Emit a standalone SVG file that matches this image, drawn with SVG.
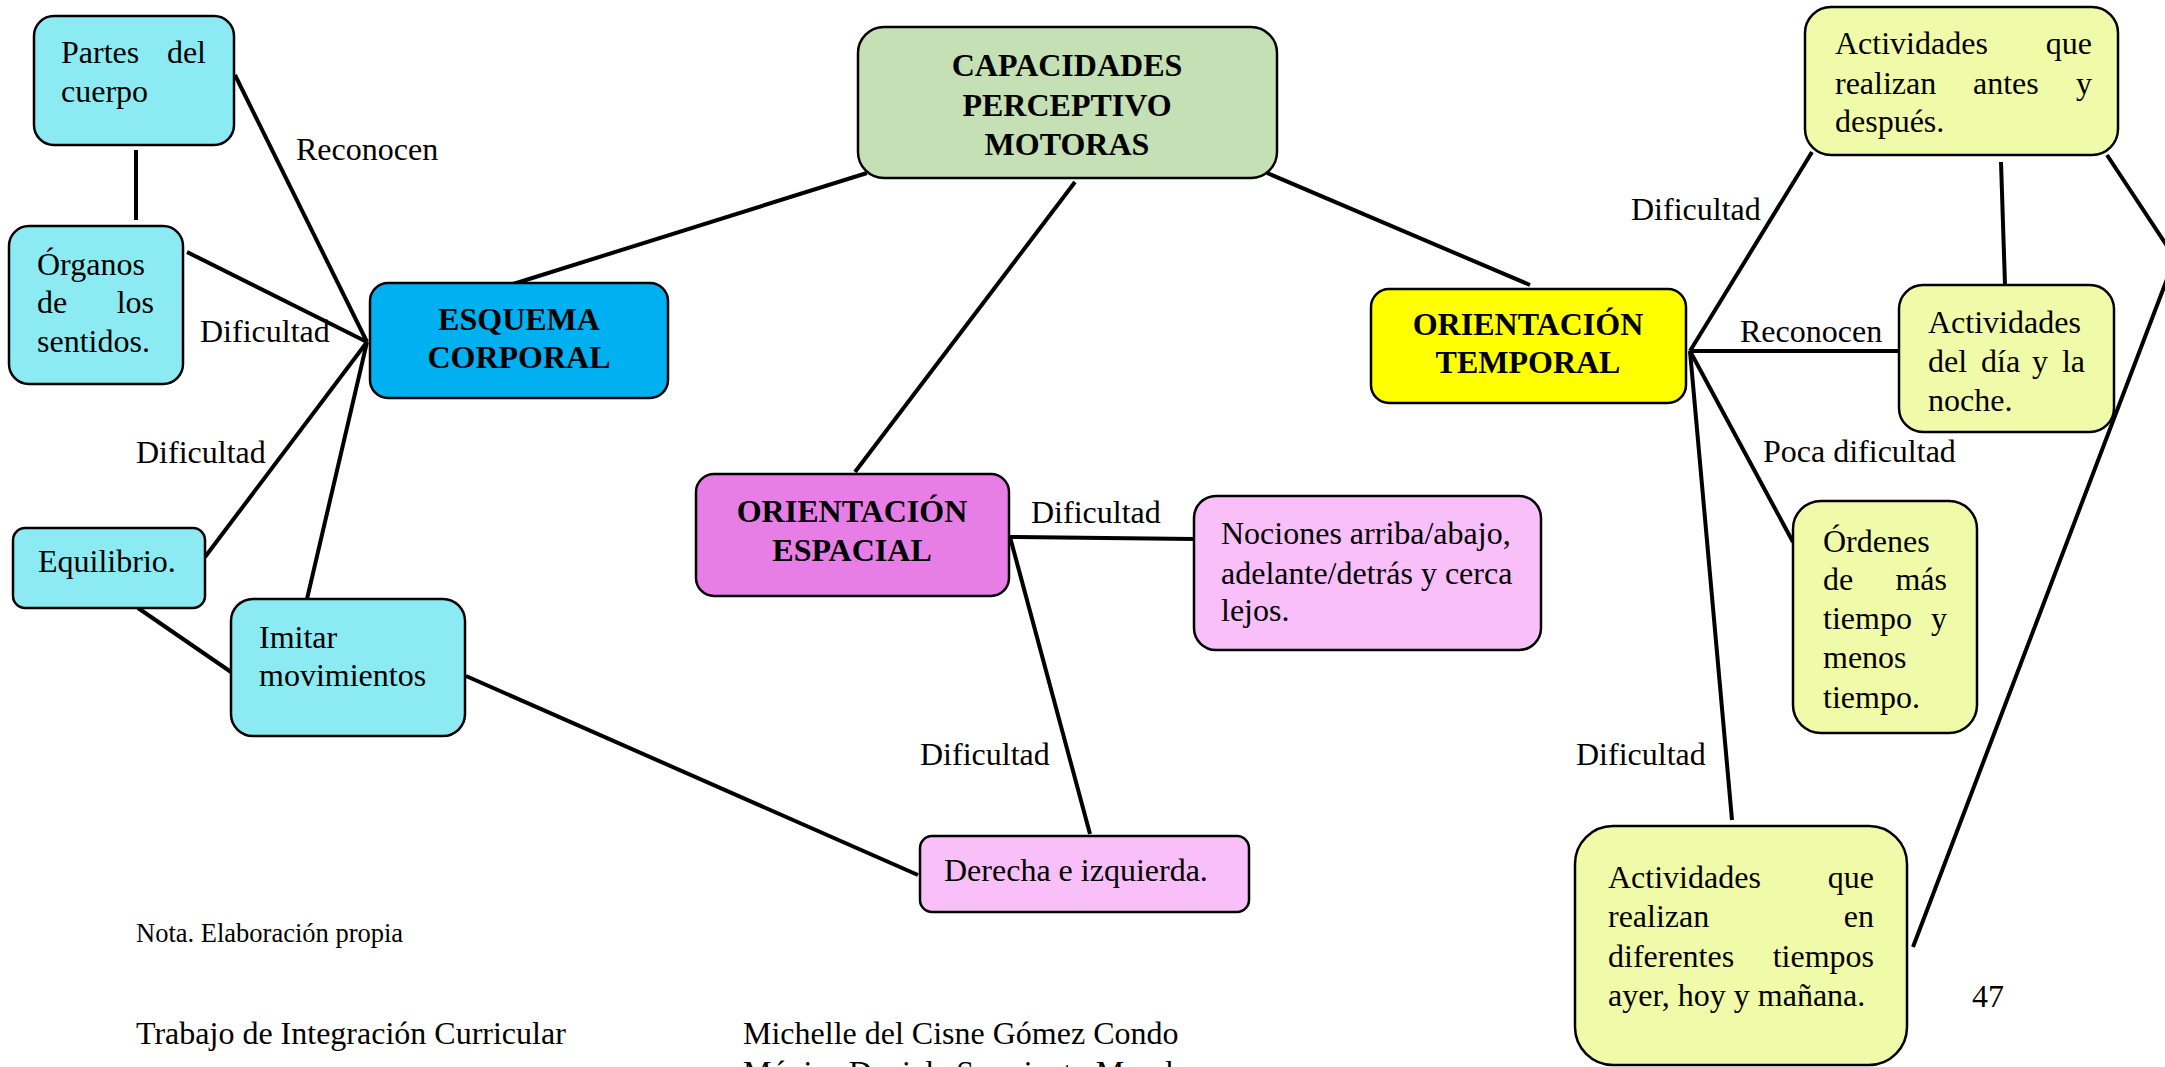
<svg xmlns="http://www.w3.org/2000/svg" width="2165" height="1067" viewBox="0 0 2165 1067">
<style>
text{font-family:"Liberation Serif","Times New Roman",serif;font-size:32px;fill:#000}
.b{font-weight:bold;text-anchor:middle}
.e{text-anchor:end}
.n{stroke:#000;stroke-width:2.5}
.c{stroke:#000;stroke-width:4;fill:none}
.cy{fill:#8CEAF2}
.ye{fill:#F0FBA9}
.pk{fill:#F9BFF9}
</style>
<rect width="2165" height="1067" fill="#fff"/>
<g id="connectors">
<line class="c" x1="867" y1="173" x2="510" y2="285"/>
<line class="c" x1="1075" y1="182" x2="855" y2="472"/>
<line class="c" x1="1267" y1="173" x2="1530" y2="285"/>
<line class="c" x1="235" y1="75" x2="367" y2="342"/>
<line class="c" x1="136" y1="150" x2="136" y2="220"/>
<line class="c" x1="187" y1="252" x2="367" y2="342"/>
<line class="c" x1="367" y1="342" x2="205" y2="557"/>
<line class="c" x1="367" y1="342" x2="307" y2="599"/>
<line class="c" x1="138" y1="608" x2="231" y2="672"/>
<line class="c" x1="466" y1="676" x2="918" y2="875"/>
<line class="c" x1="1010" y1="537" x2="1194" y2="539"/>
<line class="c" x1="1010" y1="537" x2="1090" y2="834"/>
<line class="c" x1="1690" y1="351" x2="1812" y2="152"/>
<line class="c" x1="1690" y1="351" x2="1899" y2="351"/>
<line class="c" x1="1690" y1="351" x2="1793" y2="542"/>
<line class="c" x1="1690" y1="351" x2="1732" y2="820"/>
<line class="c" x1="2001" y1="162" x2="2005" y2="285"/>
<polyline class="c" points="2107,155 2175,258 1913,947"/>
<text x="296" y="160">Reconocen</text>
<text x="200" y="342">Dificultad</text>
<text x="136" y="463">Dificultad</text>
<text x="1031" y="523">Dificultad</text>
<text x="920" y="765">Dificultad</text>
<text x="1631" y="220">Dificultad</text>
<text x="1740" y="342">Reconocen</text>
<text x="1763" y="462">Poca dificultad</text>
<text x="1576" y="765">Dificultad</text>
</g>
<g id="capacidades">
<rect class="n" x="858" y="27" width="419" height="151" rx="26" fill="#C5E0B4"/>
<text class="b" x="1067" y="76">CAPACIDADES</text>
<text class="b" x="1067" y="116">PERCEPTIVO</text>
<text class="b" x="1067" y="155">MOTORAS</text>
</g>
<g id="esquema">
<rect class="n" x="370" y="283" width="298" height="115" rx="18" fill="#00B0F0"/>
<text class="b" x="519" y="330">ESQUEMA</text>
<text class="b" x="519" y="368">CORPORAL</text>
</g>
<g id="espacial">
<rect class="n" x="696" y="474" width="313" height="122" rx="18" fill="#E67EE6"/>
<text class="b" x="852" y="522">ORIENTACIÓN</text>
<text class="b" x="852" y="561">ESPACIAL</text>
</g>
<g id="temporal">
<rect class="n" x="1371" y="289" width="315" height="114" rx="18" fill="#FFFF00"/>
<text class="b" x="1528" y="335">ORIENTACIÓN</text>
<text class="b" x="1528" y="373">TEMPORAL</text>
</g>
<g id="partes">
<rect class="n cy" x="34" y="16" width="200" height="129" rx="20"/>
<text x="61" y="63">Partes</text><text class="e" x="206" y="63">del</text>
<text x="61" y="102">cuerpo</text>
</g>
<g id="organos">
<rect class="n cy" x="9" y="226" width="174" height="158" rx="20"/>
<text x="37" y="275">Órganos</text>
<text x="37" y="313">de</text><text class="e" x="154" y="313">los</text>
<text x="37" y="352">sentidos.</text>
</g>
<g id="equilibrio">
<rect class="n cy" x="13" y="528" width="192" height="80" rx="12"/>
<text x="38" y="572">Equilibrio.</text>
</g>
<g id="imitar">
<rect class="n cy" x="231" y="599" width="234" height="137" rx="22"/>
<text x="259" y="648">Imitar</text>
<text x="259" y="686">movimientos</text>
</g>
<g id="nociones">
<rect class="n pk" x="1194" y="496" width="347" height="154" rx="22"/>
<text x="1221" y="544">Nociones arriba/abajo,</text>
<text x="1221" y="584">adelante/detrás y cerca</text>
<text x="1221" y="621">lejos.</text>
</g>
<g id="derecha">
<rect class="n pk" x="920" y="836" width="329" height="76" rx="12"/>
<text x="944" y="881">Derecha e izquierda.</text>
</g>
<g id="antes">
<rect class="n ye" x="1805" y="7" width="313" height="148" rx="26"/>
<text x="1835" y="54">Actividades</text><text class="e" x="2092" y="54">que</text>
<text x="1835" y="94">realizan</text><text x="1973" y="94">antes</text><text class="e" x="2092" y="94">y</text>
<text x="1835" y="132">después.</text>
</g>
<g id="dia">
<rect class="n ye" x="1899" y="285" width="215" height="147" rx="24"/>
<text x="1928" y="333">Actividades</text>
<text x="1928" y="372">del</text><text x="1981" y="372">día</text><text x="2032" y="372">y</text><text class="e" x="2085" y="372">la</text>
<text x="1928" y="411">noche.</text>
</g>
<g id="ordenes">
<rect class="n ye" x="1793" y="501" width="184" height="232" rx="28"/>
<text x="1823" y="552">Órdenes</text>
<text x="1823" y="590">de</text><text class="e" x="1947" y="590">más</text>
<text x="1823" y="629">tiempo</text><text class="e" x="1947" y="629">y</text>
<text x="1823" y="668">menos</text>
<text x="1823" y="708">tiempo.</text>
</g>
<g id="diferentes">
<rect class="n ye" x="1575" y="826" width="332" height="239" rx="38"/>
<text x="1608" y="888">Actividades</text><text class="e" x="1874" y="888">que</text>
<text x="1608" y="927">realizan</text><text class="e" x="1874" y="927">en</text>
<text x="1608" y="967">diferentes</text><text class="e" x="1874" y="967">tiempos</text>
<text x="1608" y="1006">ayer, hoy y mañana.</text>
</g>
<g id="footer">
<text x="136" y="942" style="font-size:26.5px">Nota. Elaboración propia</text>
<text x="136" y="1044">Trabajo de Integración Curricular</text>
<text x="743" y="1044">Michelle del Cisne Gómez Condo</text>
<text x="743" y="1083">Mónica Daniela Sarmiento Morales</text>
<text x="1972" y="1007">47</text>
</g>
</svg>
